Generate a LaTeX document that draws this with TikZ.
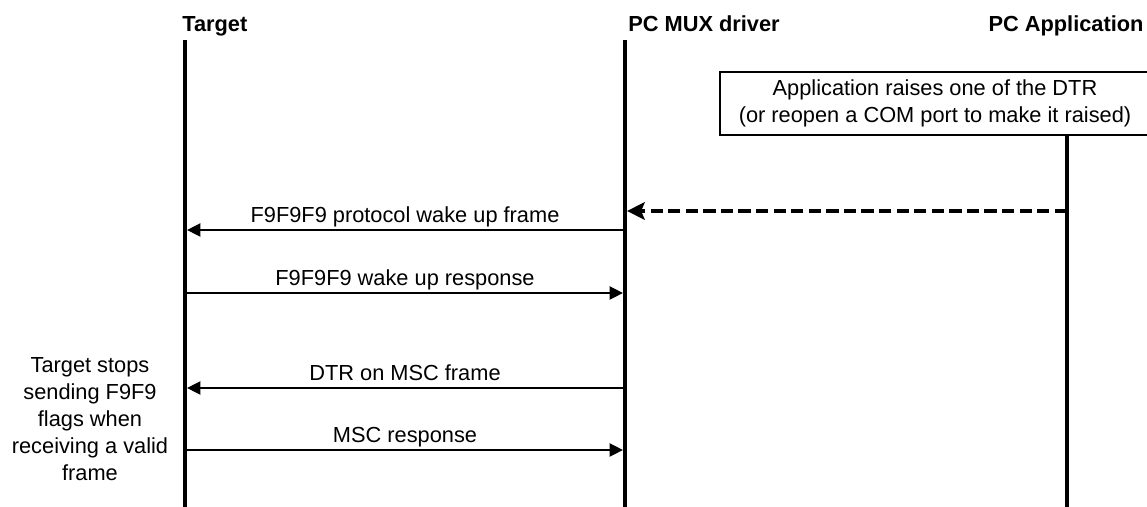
\documentclass[tikz,border=0pt]{standalone}
\usepackage{fontspec}
\setmainfont{Liberation Sans}
\usetikzlibrary{arrows.meta,positioning}

\begin{document}
\begin{tikzpicture}[
    font=\fontsize{12.4}{15}\selectfont,
    head/.style={font=\fontsize{12.4}{15}\selectfont\bfseries, inner sep=0pt},
    lifeline/.style={line width=2.5pt},
    msg/.style={-{Triangle[length=7.5pt, width=7.5pt]}, line width=0.8pt, shorten >=1.2pt},
    request/.style={-{Stealth[length=10pt, width=10pt, inset=2pt]}, line width=2.4pt, dash pattern=on 7pt off 3pt, shorten >=1.2pt},
    label/.style={midway, anchor=base, yshift=4.5pt},
    note/.style={align=center, inner sep=0pt}
]
\useasboundingbox (0,0) rectangle (22.94,-10.14);

% Headers
\node[head, anchor=base west] (target) at (3.64, -0.64) {Target};
\node[head, anchor=base west] (mux) at (12.56, -0.64) {PC MUX driver};
\node[head, anchor=base] (app) at (21.32, -0.64) {PC Application};

% Application note box
\node[draw, line width=0.6pt, minimum width=8.6cm, minimum height=1.26cm, align=center, inner sep=0pt] (raise) at (18.70, -2.07)
    {Application raises one of the DTR\\[0pt](or reopen a COM port to make it raised)};

% Lifelines
\coordinate (tgt top) at (3.70, -0.80);
\coordinate (tgt bot) at (3.70, -10.20);
\coordinate (mux top) at (12.50, -0.80);
\coordinate (mux bot) at (12.50, -10.20);
\coordinate (app top) at (21.34, -2.70);
\coordinate (app bot) at (21.34, -10.20);
\draw[lifeline] (tgt top) -- (tgt bot);
\draw[lifeline] (mux top) -- (mux bot);
\draw[lifeline] (app top) -- (app bot);

% Message rows
\coordinate (dtr) at (0, -4.22);
\coordinate (m1) at (0, -4.60);
\coordinate (m2) at (0, -5.86);
\coordinate (m3) at (0, -7.76);
\coordinate (m4) at (0, -9.00);

% DTR raised by application
\draw[request] (app top |- dtr) -- (mux top |- dtr);

% Wake up
\draw[msg] (mux top |- m1) -- (tgt top |- m1) node[label] {F9F9F9 protocol wake up frame};
\draw[msg] (tgt top |- m2) -- (mux top |- m2) node[label] {F9F9F9 wake up response};

% MSC exchange
\draw[msg] (mux top |- m3) -- (tgt top |- m3) node[label] {DTR on MSC frame};
\draw[msg] (tgt top |- m4) -- (mux top |- m4) node[label] {MSC response};

% Target remark
\node[note, font=\fontsize{12.4}{15.3}\selectfont] (stops) at (1.80, -8.38) {Target stops\\sending F9F9\\flags when\\receiving a valid\\frame};

\end{tikzpicture}
\end{document}
